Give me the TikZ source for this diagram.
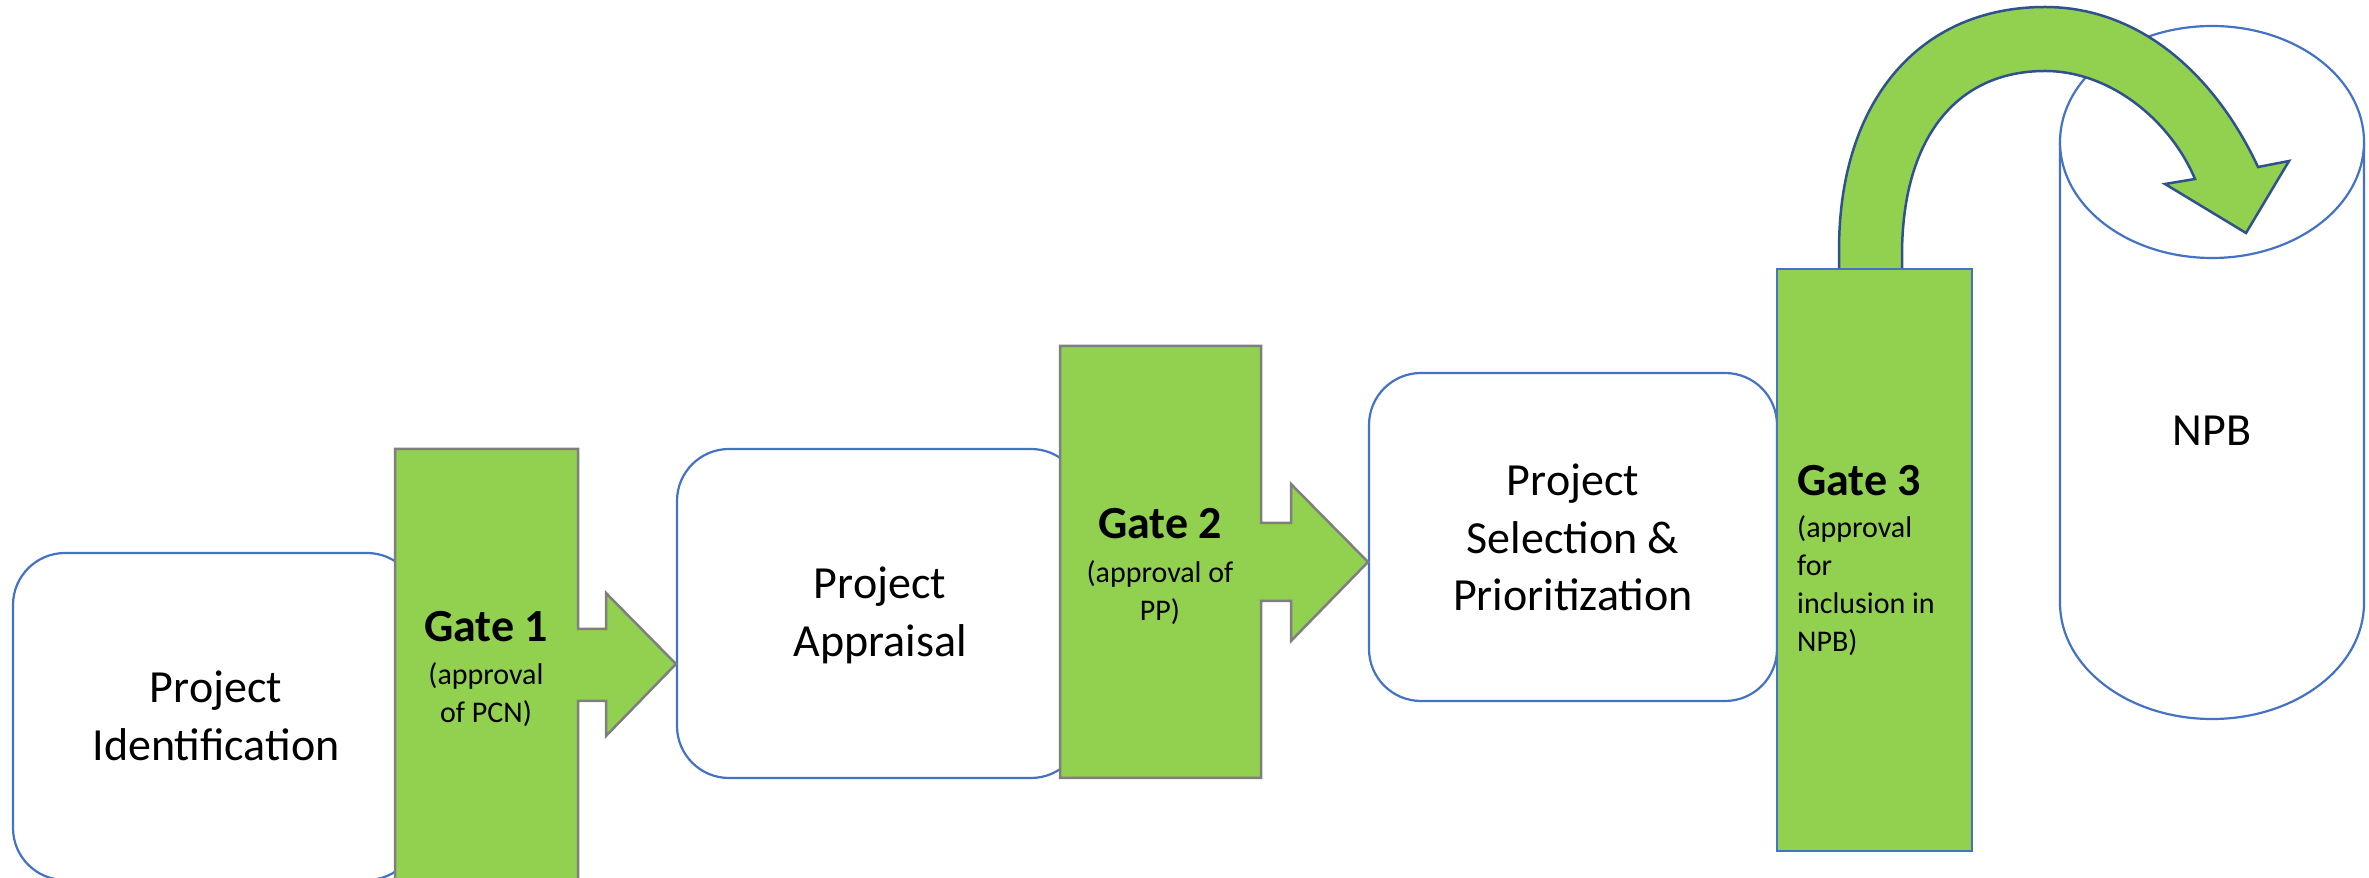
\documentclass[tikz,border=0pt]{standalone}
\usepackage{fontspec}
\setmainfont{Carlito}
\definecolor{gatefill}{HTML}{92D050}
\definecolor{boxblue}{HTML}{4472C4}
\definecolor{gategray}{HTML}{7F7F7F}
\definecolor{arrowblue}{HTML}{2F528F}
\newcommand\fbig{\fontsize{46}{58}\selectfont}
\newcommand\fsmall{\fontsize{30}{38}\selectfont}
\begin{document}
\begin{tikzpicture}[x=1pt,y=1pt,
  procbox/.style={draw=boxblue, line width=2.2pt, fill=white, rounded corners=52pt, inner sep=0pt},
  gateshape/.style={draw=gategray, fill=gatefill, line width=2.5pt, line join=miter},
  gatebox/.style={draw=boxblue, fill=gatefill, line width=2.5pt, inner sep=0pt},
  cylstyle/.style={draw=boxblue, fill=white, line width=2.2pt},
  curvearrow/.style={draw=arrowblue, fill=gatefill, line width=2.5pt, line join=miter},
  lbl/.style={inner sep=0pt, anchor=base, font=\fbig},
  gtitle/.style={inner sep=0pt, anchor=base, font=\fbig\bfseries},
  gsub/.style={inner sep=0pt, anchor=base, font=\fsmall}]
\useasboundingbox (0,0) rectangle (2369,878);
\clip (0,0) rectangle (2369,878);
% process boxes
\node[procbox, minimum width=406pt, minimum height=327pt] (b1) at (216,161.5) {};
\node[procbox, minimum width=406pt, minimum height=329pt] (b2) at (880,264.5) {};
\node[procbox, minimum width=408pt, minimum height=328pt] (b3) at (1573,341) {};
% gate 1 with arrow
\draw[gateshape] (395,429) coordinate (g1nw) -- (578,429) -- (578,249) -- (606,249) -- (606,285)
  -- (676,214) coordinate (g1tip) -- (606,142) -- (606,177) -- (578,177) -- (578,-12) -- (395,-12) -- cycle;
% gate 2 with arrow
\draw[gateshape] (1060,532) coordinate (g2nw) -- (1261,532) -- (1261,355) -- (1291,355) -- (1291,394)
  -- (1368,316) coordinate (g2tip) -- (1291,237) -- (1291,277) -- (1261,277) -- (1261,100) -- (1060,100) -- cycle;
% cylinder NPB
\draw[cylstyle] (2060,736) -- (2060,275) arc[start angle=180, end angle=360, x radius=152pt, y radius=116pt] -- (2364,736);
\draw[cylstyle] (2212,736) ellipse[x radius=152pt, y radius=116pt];
% curved arrow
\draw[curvearrow] (1839,600) -- (1839,628) .. controls (1839,778) and (1920,871) .. (2045,871)
  .. controls (2140,871) and (2215,803) .. (2258,711) -- (2289,717) -- (2246,645) coordinate (ctip)
  -- (2165,694) -- (2195,699) .. controls (2170,758) and (2110,807) .. (2045,807)
  .. controls (1955,807) and (1902,738) .. (1902,623) -- (1902,600) -- cycle;
% gate 3
\node[gatebox, minimum width=195pt, minimum height=582pt] (g3) at (1874.5,318) {};
% texts
\node[lbl] (t1) at (216,175) {\begin{tabular}[t]{@{}c@{}}Project\\Identification\end{tabular}};
\node[lbl] (t2) at (880,279) {\begin{tabular}[t]{@{}c@{}}Project\\Appraisal\end{tabular}};
\node[lbl, font=\fontsize{46}{57.5}\selectfont] (t3) at (1573,382) {\begin{tabular}[t]{@{}c@{}}Project\\Selection \&\\Prioritization\end{tabular}};
\node[gtitle] (g1t) at (486,236) {Gate 1};
\node[gsub] (g1s) at (486,193) {\begin{tabular}[t]{@{}c@{}}(approval\\of PCN)\end{tabular}};
\node[gtitle] (g2t) at (1160,339) {Gate 2};
\node[gsub] (g2s) at (1160,295) {\begin{tabular}[t]{@{}c@{}}(approval of\\PP)\end{tabular}};
\node[gtitle, anchor=base west] (g3t) at (1797,382) {Gate 3};
\node[gsub, anchor=base west] (g3s) at (1797,340) {\begin{tabular}[t]{@{}l@{}}(approval\\for\\inclusion in\\NPB)\end{tabular}};
\node[lbl] (npb) at (2212,432) {NPB};
\end{tikzpicture}
\end{document}
